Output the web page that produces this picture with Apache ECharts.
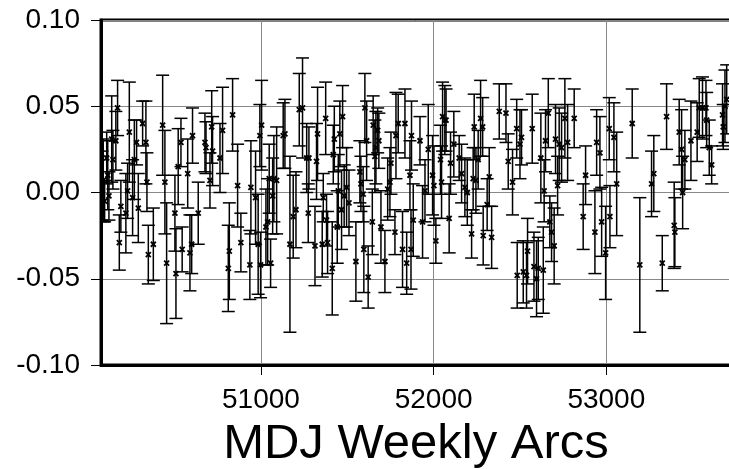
<!DOCTYPE html>
<html>
<head>
<meta charset="utf-8">
<script src="https://cdn.jsdelivr.net/npm/echarts@6/dist/echarts.min.js"></script>
<style>
  html, body { margin: 0; padding: 0; background: #fff; }
  #chart { width: 729px; height: 469px; }
</style>
</head>
<body>
<div id="chart"></div>
<script>
// weekly arc epochs (MJD), offsets and 1-sigma errors
const mjd = [
  50080, 50087, 50095, 50107, 50113, 50120, 50136, 50143, 50160, 50170, 50180, 50189, 50218, 50228, 50238,
  50257, 50267, 50280, 50290, 50315, 50334, 50340, 50348, 50377, 50431, 50444, 50454, 50502, 50508, 50521,
  50537, 50544, 50576, 50589, 50599, 50604, 50637,
  50676, 50682, 50705, 50715, 50720, 50763, 50778, 50811, 50817, 50836, 50865, 50884, 50936, 50942, 50969,
  50984, 50994, 50998, 51004, 51029, 51039, 51048, 51056, 51068, 51075, 51091, 51129, 51139, 51168, 51187,
  51203, 51222, 51241, 51265,
  51274, 51278, 51313, 51322, 51328, 51355, 51361, 51375, 51380, 51386, 51413, 51419, 51425, 51442, 51448,
  51457, 51467, 51473, 51482, 51496, 51510, 51550, 51573, 51579, 51592, 51596, 51602, 51612, 51621, 51645,
  51650, 51660, 51666, 51676, 51683, 51695, 51718, 51734, 51747, 51753, 51776, 51782, 51795, 51820, 51834,
  51844, 51863, 51869, 51872, 51882,
  51921, 51936, 51950, 51969, 51994, 52002, 52013, 52040, 52046, 52052, 52065, 52072, 52090, 52098, 52117,
  52148, 52162, 52181, 52195, 52220, 52229, 52235, 52245, 52258, 52272, 52284, 52287, 52310, 52322, 52336,
  52380, 52419, 52432, 52457, 52481, 52484,
  52500, 52509, 52519, 52538, 52544, 52571, 52581, 52596, 52606, 52621, 52635, 52640, 52648, 52664, 52673,
  52683, 52698, 52706, 52718, 52727, 52741, 52760, 52776, 52814, 52866, 52880, 52934, 52944, 52963, 52973,
  52996, 53017, 53021, 53044, 53060,
  53150, 53194, 53262, 53275, 53324, 53349, 53393, 53397, 53422, 53436, 53442, 53455, 53490, 53526, 53538,
  53557, 53577, 53581, 53596, 53610, 53673, 53677, 53687, 53697
]
const offset = [
  0.004, 0.007, -0.005, 0.020, 0.010, -0.002, 0.031, 0.019, 0.030, 0.049, -0.029, -0.008, -0.012, 0.001, 0.035,
  -0.003, 0.019, 0.029, -0.009, 0.040, 0.029, 0.006, -0.036, -0.030, 0.039, 0.006, -0.041, -0.012, -0.047, 0.015,
  0.029, -0.033, 0.011, -0.035, -0.030, 0.033, -0.012,
  0.029, 0.026, 0.007, 0.038, 0.024, 0.020, 0.036, -0.044, -0.034, 0.045, 0.004, -0.029, -0.042, 0.003, -0.003,
  -0.030, 0.033, -0.042, 0.039, -0.020, -0.017, 0.008, -0.041, -0.002, 0.008, 0.007, 0.033, 0.034, -0.030, -0.014,
  -0.010, 0.048, 0.049, 0.020,
  -0.012, 0.020, -0.031, 0.018, 0.034, -0.030, -0.003, 0.043, -0.016, -0.029, -0.044, 0.022, 0.031, -0.020, 0.001,
  0.034, -0.010, 0.044, -0.002, 0.003, -0.006, -0.040, 0.012, 0.005, -0.001, -0.033, 0.049, 0.030, -0.049, -0.017,
  0.039, 0.021, 0.026, 0.036, 0.030, -0.020, -0.040, 0.002, 0.006, 0.017, -0.023, 0.033, 0.040, -0.033, 0.040,
  -0.041, 0.010, -0.033, 0.033, -0.016,
  0.030, -0.017, 0.001, 0.025, 0.010, 0.004, -0.028, 0.019, 0.006, 0.044, 0.042, 0.042, -0.015, 0.017, 0.028,
  0.020, 0.011, 0.003, 0.000, -0.024, 0.008, 0.038, 0.007, 0.019, 0.043, 0.038, -0.025, -0.007, 0.009, -0.026,
  0.047, 0.046, 0.018, 0.006, 0.037, -0.048,
  0.028, 0.032, -0.046, -0.048, -0.034, 0.037, -0.043, -0.050, -0.044, 0.020, -0.045, 0.001, 0.030, 0.046, -0.017,
  -0.023, -0.031, 0.031, 0.004, 0.028, 0.026, 0.043, 0.029, 0.043, -0.014, 0.010, -0.023, 0.029, 0.023, -0.017,
  -0.035, 0.037, -0.014, 0.032, 0.005,
  0.040, -0.042, 0.005, 0.011, -0.041, 0.044, -0.019, -0.023, 0.035, 0.025, 0.000, 0.019, 0.030, 0.035, 0.049,
  0.049, 0.049, 0.042, 0.026, 0.016, 0.045, 0.038, 0.050, 0.054
]
const sigma = [
  0.020, 0.024, 0.012, 0.015, 0.020, 0.014, 0.025, 0.017, 0.017, 0.016, 0.016, 0.015, 0.023, 0.016, 0.029,
  0.022, 0.023, 0.013, 0.020, 0.013, 0.024, 0.017, 0.017, 0.021, 0.029, 0.030, 0.035, 0.022, 0.026, 0.022,
  0.014, 0.013, 0.020, 0.022, 0.017, 0.016, 0.018,
  0.017, 0.015, 0.016, 0.021, 0.020, 0.020, 0.025, 0.025, 0.028, 0.021, 0.024, 0.017, 0.020, 0.027, 0.027,
  0.029, 0.018, 0.019, 0.026, 0.022, 0.025, 0.020, 0.014, 0.022, 0.025, 0.031, 0.019, 0.020, 0.051, 0.024,
  0.022, 0.021, 0.029, 0.020,
  0.017, 0.018, 0.023, 0.022, 0.027, 0.019, 0.014, 0.021, 0.015, 0.018, 0.027, 0.017, 0.019, 0.021, 0.021,
  0.019, 0.023, 0.018, 0.018, 0.023, 0.019, 0.023, 0.018, 0.016, 0.016, 0.025, 0.020, 0.023, 0.018, 0.019,
  0.017, 0.021, 0.021, 0.013, 0.016, 0.021, 0.018, 0.018, 0.020, 0.018, 0.013, 0.025, 0.017, 0.022, 0.020,
  0.018, 0.020, 0.023, 0.020, 0.021,
  0.014, 0.021, 0.018, 0.026, 0.023, 0.023, 0.013, 0.020, 0.021, 0.020, 0.020, 0.018, 0.020, 0.018, 0.019,
  0.013, 0.017, 0.017, 0.019, 0.014, 0.018, 0.019, 0.019, 0.017, 0.022, 0.017, 0.017, 0.015, 0.017, 0.018,
  0.016, 0.017, 0.016, 0.019, 0.017, 0.019,
  0.020, 0.016, 0.018, 0.019, 0.019, 0.020, 0.020, 0.022, 0.018, 0.026, 0.025, 0.018, 0.018, 0.020, 0.015,
  0.017, 0.022, 0.020, 0.017, 0.021, 0.020, 0.023, 0.022, 0.017, 0.019, 0.017, 0.024, 0.019, 0.021, 0.020,
  0.027, 0.018, 0.018, 0.020, 0.030,
  0.020, 0.039, 0.019, 0.022, 0.016, 0.019, 0.025, 0.020, 0.019, 0.023, 0.021, 0.017, 0.023, 0.017, 0.017,
  0.018, 0.016, 0.016, 0.016, 0.011, 0.018, 0.013, 0.021, 0.020
]
const xTicks = [51000, 52000, 53000]

const FONT = '"Liberation Sans", Arial, Helvetica, sans-serif'

const data = mjd.map((d, i) => [d, offset[i], sigma[i]])

function renderBar(params, api) {
  const x = api.value(0)
  const y = api.value(1)
  const e = api.value(2)
  const top = api.coord([x, y + e])
  const bot = api.coord([x, y - e])
  const mid = api.coord([x, y])
  const w = 6.5
  const m = 2.5
  const bar = {stroke: '#000', lineWidth: 1.5}
  const mark = {stroke: '#000', lineWidth: 1.8}
  return {
    type: 'group',
    children: [
      {type: 'line', shape: {x1: top[0], y1: top[1], x2: bot[0], y2: bot[1]}, style: bar},
      {type: 'line', shape: {x1: top[0] - w, y1: top[1], x2: top[0] + w, y2: top[1]}, style: bar},
      {type: 'line', shape: {x1: bot[0] - w, y1: bot[1], x2: bot[0] + w, y2: bot[1]}, style: bar},
      {type: 'line', shape: {x1: mid[0] - m, y1: mid[1] - m, x2: mid[0] + m, y2: mid[1] + m}, style: mark},
      {type: 'line', shape: {x1: mid[0] - m, y1: mid[1] + m, x2: mid[0] + m, y2: mid[1] - m}, style: mark}
    ]
  }
}

const chart = echarts.init(document.getElementById('chart'), null, {renderer: 'canvas'})

chart.setOption({
  animation: false,
  backgroundColor: '#fff',
  grid: {
    left: 101,
    right: -2,
    top: 20,
    bottom: 104,
    outerBoundsMode: 'none',
    containLabel: false,
    show: true,
    borderColor: '#000',
    borderWidth: 3
  },
  xAxis: {
    type: 'value',
    min: 50074,
    max: 53722,
    axisLine: {onZero: false, lineStyle: {color: '#000', width: 3}},
    axisTick: {customValues: xTicks, length: 10, lineStyle: {color: '#000', width: 1}},
    axisLabel: {
      customValues: xTicks,
      color: '#000',
      fontSize: 28,
      fontFamily: FONT,
      margin: 21,
      formatter: v => String(v)
    },
    splitLine: {show: true, lineStyle: {color: '#888', width: 1}},
    name: 'MDJ Weekly Arcs',
    nameLocation: 'middle',
    nameGap: 55,
    nameTextStyle: {color: '#000', fontSize: 49, fontFamily: FONT}
  },
  yAxis: {
    type: 'value',
    min: -0.1,
    max: 0.1,
    interval: 0.05,
    axisLine: {show: true, onZero: false, lineStyle: {color: '#000', width: 3}},
    axisTick: {show: true, length: 10, lineStyle: {color: '#000', width: 1}},
    axisLabel: {
      color: '#000',
      fontSize: 28,
      fontFamily: FONT,
      margin: 21,
      formatter: v => v.toFixed(2)
    },
    splitLine: {show: true, lineStyle: {color: '#888', width: 1}}
  },
  series: [{
    type: 'custom',
    renderItem: renderBar,
    clip: true,
    encode: {x: 0, y: 1},
    data: data
  }]
})
</script>
</body>
</html>
